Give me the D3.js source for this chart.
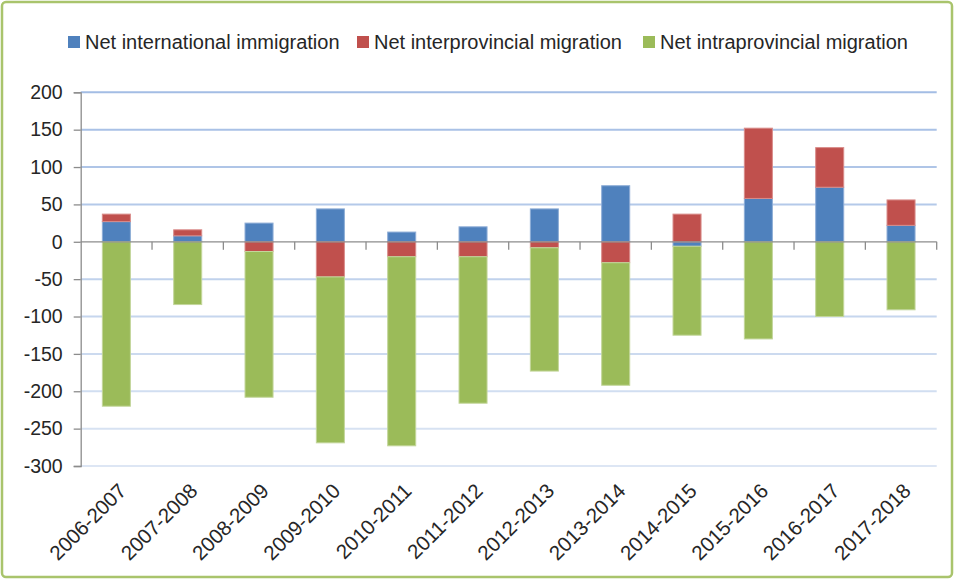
<!DOCTYPE html>
<html>
<head>
<meta charset="utf-8">
<script src="https://cdn.jsdelivr.net/npm/d3@7"></script>
<style>
  html, body { margin: 0; padding: 0; background: #fff; }
  svg { display: block; font-family: "Liberation Sans", Arial, sans-serif; }
</style>
</head>
<body>
<svg id="chart" width="955" height="580"></svg>
<script>
const categories = ["2006-2007","2007-2008","2008-2009","2009-2010","2010-2011","2011-2012","2012-2013","2013-2014","2014-2015","2015-2016","2016-2017","2017-2018"];
const seriesNames = ["Net international immigration","Net interprovincial migration","Net intraprovincial migration"];
const international = [27, 8, 25, 44, 13, 20, 44, 75, -6, 58, 73, 22];
const interprovincial = [10, 8, -13, -47, -20, -20, -8, -28, 37, 94, 53, 34];
const intraprovincial = [-220, -84, -195, -222, -253, -196, -165, -164, -119, -130, -100, -91];
const yTicks = [200, 150, 100, 50, 0, -50, -100, -150, -200, -250, -300];
const colors = ["#4F81BD", "#C0504D", "#9BBB59"];
const strokes = ["#8eadd6", "#d98c8a", "#c3d69b"];

(function () {
const svg = d3.select("#chart");
const pLeft = 80.7, pRight = 936.7, pTop = 92.3, pBottom = 466;

// outer border
svg.append("rect").attr("x", 2).attr("y", 2).attr("width", 950).attr("height", 575)
  .attr("rx", 4).attr("fill", "#fff").attr("stroke", "#a9c46c").attr("stroke-width", 2.5);

const rows = categories.map((c, i) => ({
  cat: c,
  [seriesNames[0]]: international[i],
  [seriesNames[1]]: interprovincial[i],
  [seriesNames[2]]: intraprovincial[i]
}));

const x = d3.scaleBand().domain(categories).range([pLeft, pRight])
  .paddingInner(0.607).paddingOuter(0.3035);
const y = d3.scaleLinear().domain([-300, 200]).range([pBottom, pTop]);

// gridlines
const gridColor = d3.scaleLinear().domain([200, -300]).range(["#a3bde4", "#dde6f4"]);
svg.append("g").selectAll("line").data(yTicks.filter(t => t !== 0)).join("line")
  .attr("x1", pLeft).attr("x2", pRight)
  .attr("y1", d => y(d)).attr("y2", d => y(d))
  .attr("stroke", d => gridColor(d)).attr("stroke-width", 2);

// y axis
const yAxis = d3.axisLeft(y).tickValues(yTicks).tickSize(7).tickPadding(11).tickFormat(d => String(d));
const gy = svg.append("g").attr("transform", `translate(${pLeft},0)`).call(yAxis);
gy.select(".domain").attr("stroke", "#8c8c8c").attr("stroke-width", 1.3);
gy.selectAll(".tick line").attr("stroke", "#8c8c8c").attr("stroke-width", 1.3);
gy.selectAll(".tick text").attr("font-size", 19.5).attr("fill", "#262626")
  .attr("font-family", "Liberation Sans, Arial, sans-serif");

// stacked bars
const stack = d3.stack().keys(seriesNames).offset(d3.stackOffsetDiverging).order(d3.stackOrderNone);
const stacked = stack(rows);
svg.append("g").selectAll("g").data(stacked).join("g")
  .attr("fill", (d, i) => colors[i]).attr("stroke", (d, i) => strokes[i]).attr("stroke-width", 1)
  .selectAll("rect").data(d => d).join("rect")
  .attr("x", d => x(d.data.cat))
  .attr("width", x.bandwidth())
  .attr("y", d => y(Math.max(d[0], d[1])))
  .attr("height", d => Math.abs(y(d[0]) - y(d[1])));

// x axis at zero
const y0 = y(0);
const gx = svg.append("g");
gx.append("line").attr("x1", pLeft).attr("x2", pRight).attr("y1", y0).attr("y2", y0)
  .attr("stroke", "#8c8c8c").attr("stroke-width", 1.3);
const boundaries = categories.map(c => x(c) - x.step() * x.paddingInner() / 2 + x.step());
gx.selectAll("line.tk").data(boundaries).join("line").attr("class", "tk")
  .attr("x1", d => d).attr("x2", d => d).attr("y1", y0).attr("y2", y0 + 8)
  .attr("stroke", "#8c8c8c").attr("stroke-width", 1.3);

// x labels
svg.append("g").selectAll("text").data(categories).join("text")
  .attr("transform", d => `translate(${x(d) + x.bandwidth() / 2 + 6},${487}) rotate(-45)`)
  .attr("text-anchor", "end").attr("dy", "0.35em")
  .attr("font-size", 20.5).attr("fill", "#262626")
  .text(d => d);

// legend
const legendX = [68, 357, 643];
const lg = svg.append("g").selectAll("g").data(seriesNames).join("g")
  .attr("transform", (d, i) => `translate(${legendX[i]},42)`);
lg.append("rect").attr("x", 0).attr("y", -6).attr("width", 12).attr("height", 12)
  .attr("fill", (d, i) => colors[i]);
lg.append("text").attr("x", 17).attr("dy", "0.35em").attr("font-size", 20)
  .attr("fill", "#262626").text(d => d);
})();
</script>
</body>
</html>
